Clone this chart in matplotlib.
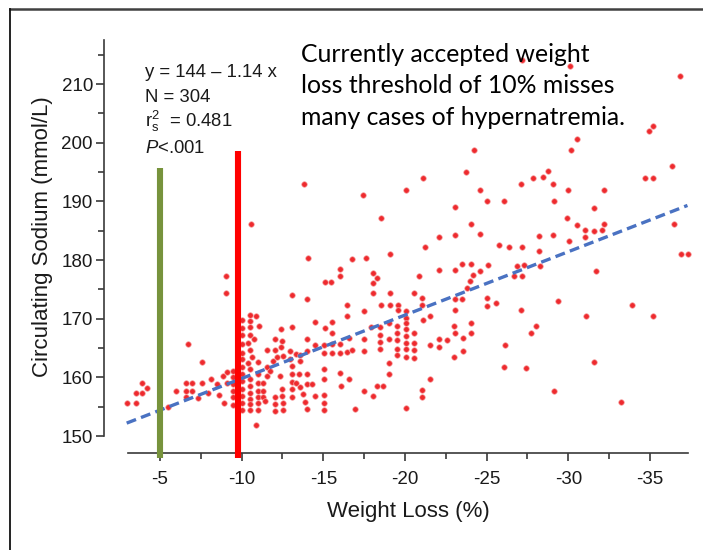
import matplotlib
matplotlib.use('Agg')
import matplotlib.pyplot as plt
from matplotlib.lines import Line2D
from matplotlib.ticker import FixedLocator

plt.rcParams['font.family'] = ['Liberation Sans', 'DejaVu Sans']
plt.rcParams['axes.unicode_minus'] = False
plt.rcParams['mathtext.fontset'] = 'custom'
plt.rcParams['mathtext.rm'] = 'Liberation Sans'
plt.rcParams['mathtext.it'] = 'Liberation Sans:italic'

# (weight loss %, circulating sodium mmol/L), by area
pts_low = [
    (-2.96, 155.7), (-3.53, 155.7), (-3.53, 157.4), (-3.88, 157.4), (-3.88, 159.0),
    (-4.22, 158.1), (-5.51, 154.9), (-5.96, 157.7), (-6.59, 159.0), (-6.59, 157.7),
    (-6.59, 156.7), (-6.98, 159.0), (-6.98, 157.7), (-6.73, 165.6), (-7.35, 156.4),
    (-7.55, 162.6), (-7.55, 159.0), (-7.96, 157.4), (-8.12, 159.7), (-8.47, 158.8),
    (-8.63, 157.0), (-8.88, 160.2), (-9.08, 160.9), (-9.08, 159.1), (-8.94, 155.7),
    (-9.02, 177.3), (-9.02, 174.3),
    (-9.49, 161.1), (-9.49, 160.0), (-9.49, 158.8), (-9.49, 157.7), (-9.49, 156.6),
    (-9.49, 155.3),
    (-10.04, 169.7), (-10.04, 168.4), (-10.04, 167.2), (-10.04, 165.6), (-10.04, 164.2),
    (-10.04, 163.1), (-10.04, 161.7), (-10.04, 160.5), (-10.04, 159.4), (-10.04, 158.0),
    (-10.04, 156.9), (-10.04, 155.6), (-10.04, 154.4),
]

pts_near10 = [
    (-10.51, 170.6), (-10.88, 170.5), (-10.51, 169.6), (-10.51, 168.5), (-10.51, 167.3),
    (-11.06, 168.7), (-10.41, 165.9), (-10.77, 166.5), (-10.51, 164.6), (-10.65, 163.4),
    (-10.41, 162.5), (-10.98, 162.6), (-10.51, 161.5), (-10.98, 160.5), (-10.51, 159.7),
    (-10.98, 159.1), (-10.51, 158.6), (-10.51, 157.4), (-10.51, 156.3), (-10.51, 155.4),
    (-10.51, 154.4), (-10.98, 157.7), (-10.98, 156.7), (-10.98, 155.7), (-10.98, 154.4),
    (-11.33, 159.0), (-11.33, 157.7), (-11.33, 156.7), (-11.43, 155.9), (-10.88, 151.8),
    (-11.53, 164.6), (-12.04, 166.6), (-12.49, 166.2), (-12.04, 164.7), (-12.41, 165.1),
    (-11.90, 162.8), (-12.15, 163.4), (-11.53, 161.7), (-11.73, 161.1), (-11.53, 160.3),
    (-12.41, 168.3), (-12.35, 160.2), (-12.04, 156.6), (-12.04, 155.4), (-12.04, 154.3),
    (-12.49, 158.0), (-12.49, 156.9), (-12.55, 155.6), (-12.55, 154.4), (-13.07, 174.1),
    (-13.07, 168.5), (-12.96, 164.5), (-12.96, 163.1), (-12.55, 163.6), (-13.07, 161.9),
    (-13.07, 160.5), (-13.07, 159.2), (-13.07, 158.0), (-13.07, 156.7), (-13.33, 163.9),
    (-13.51, 160.5), (-13.33, 159.0), (-10.55, 186.1), (-14.08, 180.4),
]

pts_mid = [
    (-13.82, 193.0), (-17.45, 191.0), (-18.53, 187.1), (-20.04, 192.0), (-21.10, 193.9),
    (-23.74, 195.0), (-24.23, 198.7), (-23.04, 189.1), (-24.07, 186.2), (-22.06, 184.0),
    (-23.04, 184.2), (-21.23, 182.2), (-19.08, 181.1), (-16.78, 180.2), (-17.64, 180.3),
    (-16.00, 178.4), (-16.00, 177.3), (-18.02, 177.8), (-18.29, 176.9), (-18.02, 176.1),
    (-20.88, 177.3), (-22.06, 178.3), (-23.04, 178.3), (-23.49, 179.3), (-24.07, 179.3),
    (-24.19, 177.4), (-23.98, 176.5), (-23.82, 175.3), (-15.10, 176.2), (-15.47, 176.3),
    (-14.02, 173.4), (-16.45, 172.4), (-16.45, 170.4), (-17.51, 171.3), (-18.02, 174.3),
    (-18.53, 172.4), (-19.06, 172.4), (-19.06, 174.3), (-19.55, 172.3), (-19.55, 171.4),
    (-20.04, 171.3), (-20.04, 170.2), (-20.53, 174.3), (-21.06, 173.6), (-21.06, 172.4),
    (-21.10, 169.7), (-21.53, 170.5), (-23.06, 173.4), (-23.51, 173.4), (-23.06, 171.4),
    (-14.51, 169.5), (-15.55, 169.5), (-15.10, 168.4), (-15.55, 167.5), (-14.00, 166.6),
    (-14.00, 164.5), (-13.57, 163.8), (-14.51, 165.5), (-15.06, 165.5), (-15.06, 164.2),
    (-15.55, 165.6), (-15.55, 164.2), (-16.00, 165.6), (-16.00, 164.2), (-16.45, 164.3),
    (-16.74, 164.6), (-16.55, 166.7), (-17.51, 166.5), (-17.51, 164.5), (-17.94, 168.5),
    (-18.49, 168.5), (-18.49, 167.3), (-18.49, 166.0), (-18.49, 164.8), (-19.00, 169.3),
    (-19.00, 166.5), (-19.00, 162.5), (-19.00, 160.5), (-19.51, 168.8), (-19.51, 167.6),
    (-19.51, 166.4), (-19.51, 164.9), (-19.51, 163.8), (-20.04, 169.2), (-20.04, 168.3),
    (-20.04, 167.1), (-20.04, 165.9), (-20.04, 164.8), (-20.04, 163.4), (-20.55, 167.5),
    (-20.55, 165.9), (-20.55, 164.7), (-20.55, 163.3), (-21.53, 165.5), (-22.06, 166.5),
    (-22.06, 165.2), (-22.55, 166.3), (-23.06, 167.5), (-23.53, 166.7), (-23.02, 168.7),
    (-24.02, 169.2), (-24.07, 167.5), (-23.02, 163.4), (-23.57, 164.5),
    (-13.57, 162.8), (-14.00, 160.5), (-14.00, 158.8), (-14.33, 158.8), (-13.57, 158.3),
    (-13.74, 157.1), (-13.88, 155.8), (-14.02, 154.6), (-14.51, 156.8), (-15.02, 161.5),
    (-15.02, 159.7), (-15.02, 157.0), (-15.02, 155.7), (-15.02, 154.4), (-16.00, 160.7),
    (-16.08, 158.6), (-16.57, 159.7), (-16.96, 154.6), (-17.51, 157.6), (-18.02, 156.8),
    (-18.31, 158.6), (-18.68, 158.6), (-20.06, 154.8), (-21.04, 157.9), (-21.04, 156.6),
    (-21.53, 159.7),
]

pts_high = [
    (-36.33, 196.1), (-28.74, 195.1), (-28.47, 194.2), (-27.86, 193.9), (-34.70, 193.9),
    (-35.17, 194.0), (-27.09, 193.0), (-29.05, 193.0), (-24.60, 192.0), (-30.00, 192.0),
    (-32.20, 192.0), (-25.05, 190.0), (-26.07, 190.1), (-29.13, 190.0), (-31.60, 188.9),
    (-29.90, 187.1), (-36.50, 186.2), (-30.55, 186.0), (-32.19, 186.1), (-31.05, 185.2),
    (-31.58, 185.0), (-32.09, 185.2), (-31.05, 184.0), (-24.60, 184.4), (-28.19, 184.1),
    (-29.08, 184.2), (-30.07, 183.3), (-25.78, 182.6), (-26.35, 182.3), (-27.15, 182.2),
    (-28.23, 181.6), (-36.90, 181.1), (-37.33, 181.1), (-25.10, 179.1), (-24.60, 178.1),
    (-26.88, 179.0), (-27.31, 179.1), (-28.27, 178.9), (-26.70, 177.3), (-27.19, 177.3),
    (-31.68, 178.2), (-25.04, 173.6), (-25.04, 172.2), (-25.58, 172.6), (-29.39, 173.0),
    (-33.88, 172.3), (-27.09, 171.4), (-31.07, 170.4), (-35.17, 170.4), (-28.02, 168.7),
    (-27.72, 167.5), (-26.10, 165.5), (-26.07, 161.7), (-27.41, 161.6), (-31.60, 162.6),
    (-29.13, 157.7), (-33.20, 155.8),
]

pts_top = [
    (-27.15, 214.1), (-30.10, 213.0), (-36.84, 211.4), (-35.20, 202.8), (-34.96, 202.0),
    (-30.55, 200.7), (-30.17, 198.8),
]

# regression line end points as drawn
fit_x = [-2.96, -37.3]
fit_y = [152.2, 189.3]

# threshold markers (5% and 10% weight loss)
green_x, green_top = -5.0, 195.6
red_x, red_top = -9.75, 198.6
marker_bottom = 146.2

xticks = [-5, -10, -15, -20, -25, -30, -35]
xtick_labels = ['-5', '-10', '-15', '-20', '-25', '-30', '-35']
xminor = [-7.5, -12.5, -17.5, -22.5, -27.5, -32.5]
yticks = [150, 160, 170, 180, 190, 200, 210]
yminor = [155, 165, 175, 185, 195, 205, 215]

stats_lines = ['y = 144 \u2013 1.14 x', 'N = 304',
               r'r$_\mathrm{s}^\mathrm{2}$  = 0.481', r'$P$<.001']
note_lines = ['Currently accepted weight', 'loss threshold of 10% misses',
              'many cases of hypernatremia.']

all_pts = pts_low + pts_near10 + pts_mid + pts_high + pts_top
wl = [p[0] for p in all_pts]
na = [p[1] for p in all_pts]

W, H = 703, 550
fig = plt.figure(figsize=(W / 100, H / 100), dpi=100)
ax = fig.add_axes([104 / W, 1 - 452.5 / H, (690 - 104) / W, (452.5 - 40) / H])
ax.set_xlim(-1.571, -37.455)
ax.set_ylim(147.19, 217.5)

ax.scatter(wl, na, s=16, c='#ee2a2e', edgecolors='#f7a6a6', linewidths=0.5,
           zorder=3, clip_on=False)
ax.plot(fit_x, fit_y, color='#4a72c2', lw=2.4, dashes=(3.0, 1.6), zorder=4)
ax.plot([green_x, green_x], [marker_bottom, green_top], color='#77933c', lw=4.4,
        solid_capstyle='butt', clip_on=False, zorder=5)
ax.plot([red_x, red_x], [marker_bottom, red_top], color='#ff0000', lw=4.4,
        solid_capstyle='butt', clip_on=False, zorder=5)

for s in ['top', 'right']:
    ax.spines[s].set_visible(False)
for s in ['left', 'bottom']:
    ax.spines[s].set_color('#3a3a3a')
    ax.spines[s].set_linewidth(1.2)
ax.spines['left'].set_bounds(150, 217.5)
ax.spines['bottom'].set_bounds(-3.04, -37.33)

ax.set_xticks(xticks, xtick_labels)
ax.xaxis.set_minor_locator(FixedLocator(xminor))
ax.set_yticks(yticks)
ax.yaxis.set_minor_locator(FixedLocator(yminor))
ax.tick_params(which='both', color='#3a3a3a', width=1.2, labelcolor='#1a1a1a')
ax.tick_params(which='major', length=6, labelsize=13.5)
ax.tick_params(which='minor', length=4)
ax.tick_params(axis='x', which='major', pad=7)
ax.tick_params(axis='y', which='major', pad=2)

fig.text(42.6 / W, 1 - 237 / H, 'Circulating Sodium (mmol/L)', rotation=90,
         ha='center', va='center', fontsize=16, color='#1a1a1a')
fig.text(408 / W, 1 - 512 / H, 'Weight Loss (%)', ha='center', va='center',
         fontsize=16, color='#1a1a1a')

for i, line in enumerate(stats_lines):
    fig.text(145 / W, 1 - (76.5 + 25.5 * i) / H, line, ha='left', va='baseline',
             fontsize=13.3, color='#1a1a1a')
for i, line in enumerate(note_lines):
    fig.text(301 / W, 1 - (61.7 + 31.7 * i) / H, line, ha='left', va='baseline',
             fontsize=17.8, color='#000000', family=['Lato', 'DejaVu Sans'])

# slide frame
fig.add_artist(Line2D([10 / W, 1], [1 - 9 / H, 1 - 9 / H], color='#404040', lw=1.8))
fig.add_artist(Line2D([10 / W, 10 / W], [1 - 9 / H, 0], color='#111111', lw=1.3))

fig.savefig('out.png', dpi=100)
